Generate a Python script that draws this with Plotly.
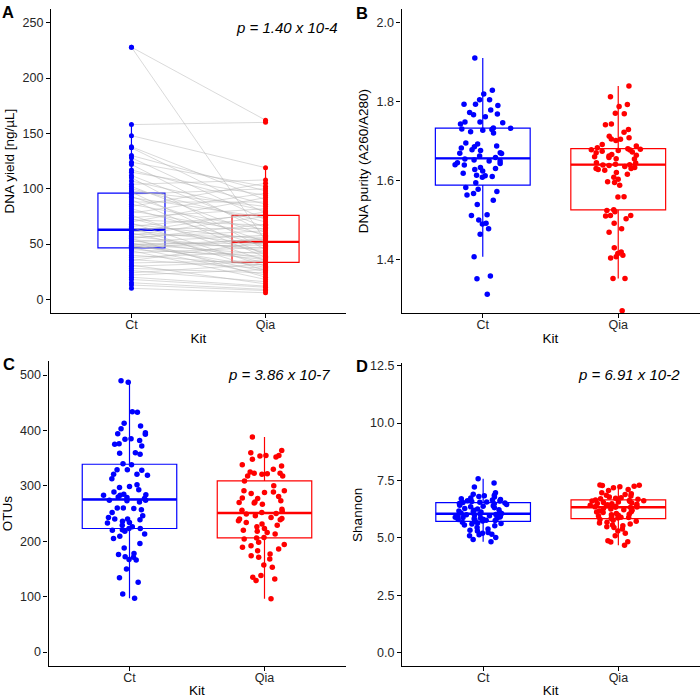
import numpy as np
import plotly.graph_objects as go

# ---------------- data ----------------
kits = ["Ct", "Qia"]

# Panel A: DNA yield, paired samples (index i of Ct pairs with index i of Qia)
yield_ct = [228, 228, 158, 148, 138, 137, 130, 128, 124, 122, 117, 115, 112, 110, 107, 104, 102, 100, 98, 97,
            95, 93, 92, 90, 88, 86, 84, 82, 80, 78, 76, 74, 73, 72, 70, 69, 68, 66, 65, 64,
            62, 61, 60, 59, 58, 57, 56, 55, 55, 54, 53, 52, 51, 50, 50, 49, 49, 48, 48, 47,
            46, 45, 44, 42, 40, 38, 36, 35, 33, 31, 30, 28, 26, 24, 22, 20, 18, 15, 13, 10]
yield_qia = [162, 53, 160, 119, 90, 78, 98, 72, 102, 60, 86, 94, 65, 45, 80, 108, 57, 70, 84, 40,
             100, 52, 74, 38, 88, 63, 105, 48, 59, 96, 35, 82, 42, 67, 92, 30, 54, 77, 26, 64,
             50, 79, 33, 56, 75, 44, 62, 20, 68, 46, 37, 58, 25, 51, 41, 54, 29, 36, 49, 22,
             55, 39, 18, 47, 31, 43, 28, 52, 35, 14, 34, 24, 16, 32, 27, 12, 11, 9, 8, 6]

# Panel B: DNA purity (A260/A280)
purity_ct = [1.911, 1.829, 1.820, 1.805, 1.805, 1.794, 1.794, 1.791, 1.779, 1.773,
             1.769, 1.767, 1.762, 1.749, 1.749, 1.747, 1.744, 1.733, 1.730, 1.734,
             1.731, 1.728, 1.724, 1.721, 1.696, 1.693, 1.688, 1.686, 1.683, 1.679,
             1.677, 1.671, 1.670, 1.669, 1.663, 1.659, 1.655, 1.653, 1.650, 1.650,
             1.646, 1.644, 1.641, 1.640, 1.634, 1.631, 1.629, 1.625, 1.619, 1.614,
             1.613, 1.611, 1.609, 1.595, 1.583, 1.579, 1.573, 1.568, 1.564, 1.551,
             1.540, 1.514, 1.512, 1.501, 1.493, 1.491, 1.479, 1.465, 1.408, 1.359,
             1.352, 1.313]
purity_qia = [1.840, 1.813, 1.793, 1.788, 1.771, 1.770, 1.744, 1.742, 1.730, 1.723,
              1.713, 1.709, 1.706, 1.705, 1.702, 1.679, 1.677, 1.692, 1.688, 1.684,
              1.681, 1.680, 1.678, 1.675, 1.673, 1.671, 1.667, 1.665, 1.663, 1.661,
              1.659, 1.656, 1.655, 1.641, 1.639, 1.646, 1.645, 1.642, 1.640, 1.636,
              1.634, 1.631, 1.631, 1.629, 1.627, 1.621, 1.617, 1.609, 1.604, 1.598,
              1.596, 1.589, 1.560, 1.559, 1.527, 1.525, 1.522, 1.512, 1.512, 1.511,
              1.504, 1.493, 1.479, 1.470, 1.431, 1.420, 1.416, 1.412, 1.408, 1.405,
              1.353, 1.353, 1.271]

# Panel C: OTUs
otus_ct = [490, 487, 434, 433, 413, 408, 403, 396, 394, 393,
           385, 384, 382, 376, 375, 372, 360, 359, 357, 340,
           338, 329, 329, 328, 321, 321, 319, 313, 302, 299,
           297, 293, 289, 285, 284, 283, 283, 280, 279, 277,
           274, 274, 273, 271, 260, 260, 259, 257, 252, 246,
           243, 240, 240, 239, 236, 234, 233, 229, 226, 223,
           223, 221, 220, 218, 213, 209, 205, 196, 188, 178,
           176, 172, 171, 167, 166, 150, 134, 126, 105, 97]
otus_qia = [388, 364, 360, 355, 355, 354, 352, 348, 338, 336,
            330, 325, 323, 323, 322, 321, 318, 318, 309, 300,
            291, 291, 289, 288, 286, 281, 278, 277, 273, 271,
            270, 269, 267, 258, 256, 254, 252, 250, 249, 246,
            243, 241, 240, 239, 237, 234, 231, 229, 226, 223,
            220, 218, 216, 213, 207, 206, 204, 198, 194, 192,
            189, 186, 183, 177, 174, 171, 168, 157, 153, 138,
            135, 132, 129, 96]

# Panel D: Shannon
shannon_ct = [7.57, 7.39, 7.21, 6.96, 6.90, 6.86, 6.83, 6.80, 6.78, 6.74, 6.70, 6.67, 6.65, 6.62, 6.60, 6.58, 6.56, 6.55, 6.54,
              6.52, 6.50, 6.48, 6.45, 6.42, 6.40, 6.37, 6.35, 6.31, 6.28, 6.25, 6.22, 6.20, 6.17, 6.15, 6.12, 6.10, 6.08, 6.06,
              6.04, 6.02, 6.00, 5.98, 5.96, 5.95, 5.93, 5.91, 5.90, 5.88, 5.86, 5.85, 5.83, 5.81, 5.80, 5.78, 5.76, 5.75, 5.73,
              5.71, 5.68, 5.65, 5.62, 5.60, 5.56, 5.52, 5.45, 5.38, 5.33, 5.30, 5.23, 5.20, 5.16, 5.13, 5.09, 5.01, 4.93, 4.83]
shannon_qia = [7.30, 7.29, 7.28, 7.25, 7.22, 7.18, 7.10, 7.06, 6.96, 6.92, 6.89, 6.85, 6.82, 6.78, 6.75, 6.72, 6.70, 6.68,
               6.65, 6.63, 6.61, 6.60, 6.58, 6.56, 6.54, 6.52, 6.50, 6.48, 6.46, 6.44, 6.42, 6.40, 6.38, 6.37, 6.35, 6.34,
               6.335, 6.325, 6.28, 6.25, 6.22, 6.20, 6.17, 6.14, 6.12, 6.10, 6.06, 6.03, 6.00, 5.98, 5.95, 5.92, 5.90, 5.88, 5.86,
               5.84, 5.80, 5.76, 5.72, 5.68, 5.64, 5.60, 5.56, 5.52, 5.48, 5.45, 5.38, 5.30, 5.20, 5.09, 4.87, 4.83, 4.82, 4.68]

yield_ticks = [0, 50, 100, 150, 200, 250]
purity_ticks = [1.4, 1.6, 1.8, 2.0]
otus_ticks = [0, 100, 200, 300, 400, 500]
shannon_ticks = [0.0, 2.5, 5.0, 7.5, 10.0, 12.5]

p_labels = ["p = 1.40 x 10-4", None, "p = 3.86 x 10-7", "p = 6.91 x 10-2"]
panel_letters = ["A", "B", "C", "D"]
y_titles = ["DNA yield [ng/µL]", "DNA purity (A260/A280)", "OTUs", "Shannon"]

# ---------------- style ----------------
BLUE = "#0000FF"
RED = "#FF0000"
FONT = "Liberation Sans, Arial, sans-serif"
W, H = 700, 698

def px_x(v):
    return v / W

def px_y(v):
    return 1 - v / H

panels = [
    dict(ct=yield_ct, qia=yield_qia, ticks=yield_ticks, fmt="d", rng=[-12.5, 262.5],
         xdom=[51, 346], ydom=[311, 5], bw=0.5, paired=True),
    dict(ct=purity_ct, qia=purity_qia, ticks=purity_ticks, fmt=".1f", rng=[1.265, 2.035],
         xdom=[401.5, 699.5], ydom=[311, 5], bw=0.7, paired=False),
    dict(ct=otus_ct, qia=otus_qia, ticks=otus_ticks, fmt="d", rng=[-25, 525],
         xdom=[48.5, 345.5], ydom=[665.7, 359.3], bw=0.7, paired=False),
    dict(ct=shannon_ct, qia=shannon_qia, ticks=shannon_ticks, fmt=".1f", rng=[-0.6, 12.6],
         xdom=[402, 699.5], ydom=[666.1, 361.5], bw=0.7, paired=False),
]

fig = go.Figure()
shapes = []
layout = {}

for i, p in enumerate(panels):
    sfx = "" if i == 0 else str(i + 1)
    xa, ya = "x" + sfx, "y" + sfx
    for pos, vals, col in [(1, p["ct"], BLUE), (2, p["qia"], RED)]:
        if p["paired"]:
            fig.add_trace(go.Box(
                x=[pos] * len(vals), y=vals, xaxis=xa, yaxis=ya, width=p["bw"],
                boxpoints="outliers", marker=dict(color="rgba(0,0,0,0)", size=1),
                line=dict(color=col, width=1.2), fillcolor="rgba(0,0,0,0)",
                whiskerwidth=0, hoverinfo="skip", showlegend=False))
        else:
            fig.add_trace(go.Box(
                x=[pos] * len(vals), y=vals, xaxis=xa, yaxis=ya, width=p["bw"],
                boxpoints="all", jitter=0.65, pointpos=0,
                marker=dict(color=col, size=5.5, line=dict(width=0)),
                line=dict(color=col, width=1.2), fillcolor="rgba(0,0,0,0)",
                whiskerwidth=0, hoverinfo="skip", showlegend=False))
        med = float(np.median(vals))
        shapes.append(dict(type="line", xref=xa, yref=ya, layer="below",
                           x0=pos - p["bw"] / 2, x1=pos + p["bw"] / 2, y0=med, y1=med,
                           line=dict(color=col, width=2.4)))
    if p["paired"]:
        lx, ly = [], []
        for a, b in zip(p["ct"], p["qia"]):
            lx += [1, 2, None]
            ly += [a, b, None]
        fig.add_trace(go.Scatter(x=lx, y=ly, xaxis=xa, yaxis=ya, mode="lines",
                                 line=dict(color="rgba(180,180,180,0.7)", width=0.7),
                                 hoverinfo="skip", showlegend=False))
        for pos, vals, col in [(1, p["ct"], BLUE), (2, p["qia"], RED)]:
            fig.add_trace(go.Scatter(x=[pos] * len(vals), y=vals, xaxis=xa, yaxis=ya,
                                     mode="markers", marker=dict(color=col, size=5),
                                     hoverinfo="skip", showlegend=False))

    axis_common = dict(showline=True, linecolor="black", linewidth=1.1, ticks="outside",
                       ticklen=4, tickwidth=1, tickcolor="black", showgrid=False,
                       zeroline=False, tickfont=dict(family=FONT, size=12.5, color="#262626"))
    layout["xaxis" + sfx] = dict(
        domain=[px_x(p["xdom"][0]), px_x(p["xdom"][1])], anchor=ya,
        range=[0.4, 2.6], tickmode="array", tickvals=[1, 2], ticktext=kits,
        ticklabelstandoff=-4,
        title=dict(text="Kit", font=dict(family=FONT, size=13.5, color="black"), standoff=2),
        **axis_common)
    layout["yaxis" + sfx] = dict(
        domain=[px_y(p["ydom"][0]), px_y(p["ydom"][1])], anchor=xa,
        range=p["rng"], tickmode="array", tickvals=p["ticks"], tickformat=p["fmt"],
        title=dict(text=y_titles[i], font=dict(family=FONT, size=13.5, color="black"), standoff=4),
        **axis_common)

annotations = []
p_pos = [(340, 24), None, (332, 372.7), (682, 372.7)]
for i, lab in enumerate(p_labels):
    if lab is None:
        continue
    x, y = p_pos[i]
    annotations.append(dict(text="<i>" + lab + "</i>", x=px_x(x), y=px_y(y), xref="paper", yref="paper",
                            xanchor="right", yanchor="middle", showarrow=False,
                            font=dict(family=FONT, size=15, color="black")))
letter_pos = [(0, 8.5), (354, 9.5), (1, 362.5), (354, 364.5)]
for i, lab in enumerate(panel_letters):
    x, y = letter_pos[i]
    annotations.append(dict(text="<b>" + lab + "</b>", x=px_x(x), y=px_y(y), xref="paper", yref="paper",
                            xanchor="left", yanchor="middle", showarrow=False,
                            font=dict(family=FONT, size=16.5, color="black")))

fig.update_layout(width=W, height=H, margin=dict(l=0, r=0, t=0, b=0),
                  paper_bgcolor="white", plot_bgcolor="white", showlegend=False,
                  font=dict(family=FONT), shapes=shapes, annotations=annotations,
                  boxmode="overlay", **layout)

fig.write_html("out.html", config={"displayModeBar": False},
               post_script="document.body.style.margin='0';document.body.style.padding='0';")
